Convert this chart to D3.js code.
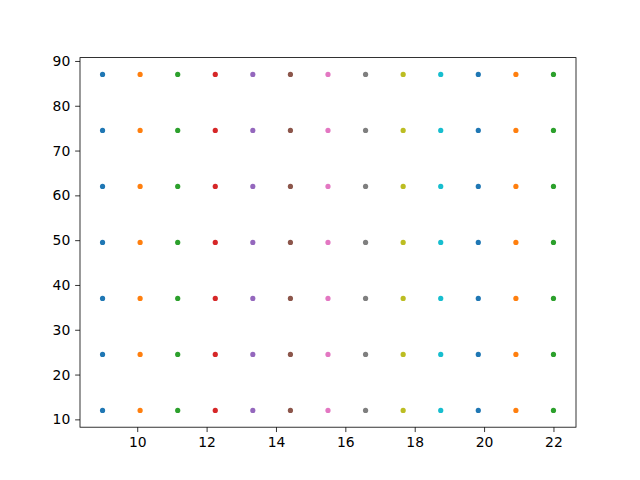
<!DOCTYPE html>
<html><head><meta charset="utf-8">
<script src="https://cdn.jsdelivr.net/npm/d3@7"></script>
<style>body{margin:0;background:#fff}svg{display:block}</style>
</head><body>
<svg id="c" width="640" height="480"></svg>
<script>
const xValues = [9, 10.083, 11.167, 12.25, 13.333, 14.417, 15.5, 16.583, 17.667, 18.75, 19.833, 20.917, 22];
const yValues = [12, 24.5, 37, 49.5, 62, 74.5, 87];
const colors = ["#1f77b4","#ff7f0e","#2ca02c","#d62728","#9467bd","#8c564b","#e377c2","#7f7f7f","#bcbd22","#17becf","#1f77b4","#ff7f0e","#2ca02c"];
const xTicks = [10, 12, 14, 16, 18, 20, 22];
const yTicks = [10, 20, 30, 40, 50, 60, 70, 80, 90];

const svg = d3.select("#c");
const L = 80, R = 576, T = 57.6, B = 427.2;
const x = d3.scaleLinear().domain([8.35, 22.65]).range([L, R]);
const y = d3.scaleLinear().domain([8.25, 90.75]).range([B, T]);

const pts = [];
xValues.forEach((xv, i) => yValues.forEach(yv => pts.push({x: xv, y: yv, c: colors[i]})));
svg.append("g").selectAll("circle").data(pts).join("circle")
  .attr("cx", d => x(d.x)).attr("cy", d => y(d.y)).attr("r", 2.6)
  .attr("fill", d => d.c);

const font = "DejaVu Sans, sans-serif";
const xa = svg.append("g").attr("transform", `translate(0,${B})`)
  .call(d3.axisBottom(x).tickValues(xTicks).tickSize(4.86).tickPadding(4.86).tickFormat(d3.format("d")));
const ya = svg.append("g").attr("transform", `translate(${L},0)`)
  .call(d3.axisLeft(y).tickValues(yTicks).tickSize(4.86).tickPadding(4.86).tickFormat(d3.format("d")));
[xa, ya].forEach(a => {
  a.select(".domain").remove();
  a.selectAll("text").attr("font-family", font).attr("font-size", 13.9).attr("fill", "#000");
  a.selectAll("line").attr("stroke", "#000").attr("stroke-width", 0.8);
});
svg.append("rect").attr("x", L).attr("y", T).attr("width", R - L).attr("height", B - T)
  .attr("fill", "none").attr("stroke", "#000").attr("stroke-width", 0.8);
</script>
</body></html>
